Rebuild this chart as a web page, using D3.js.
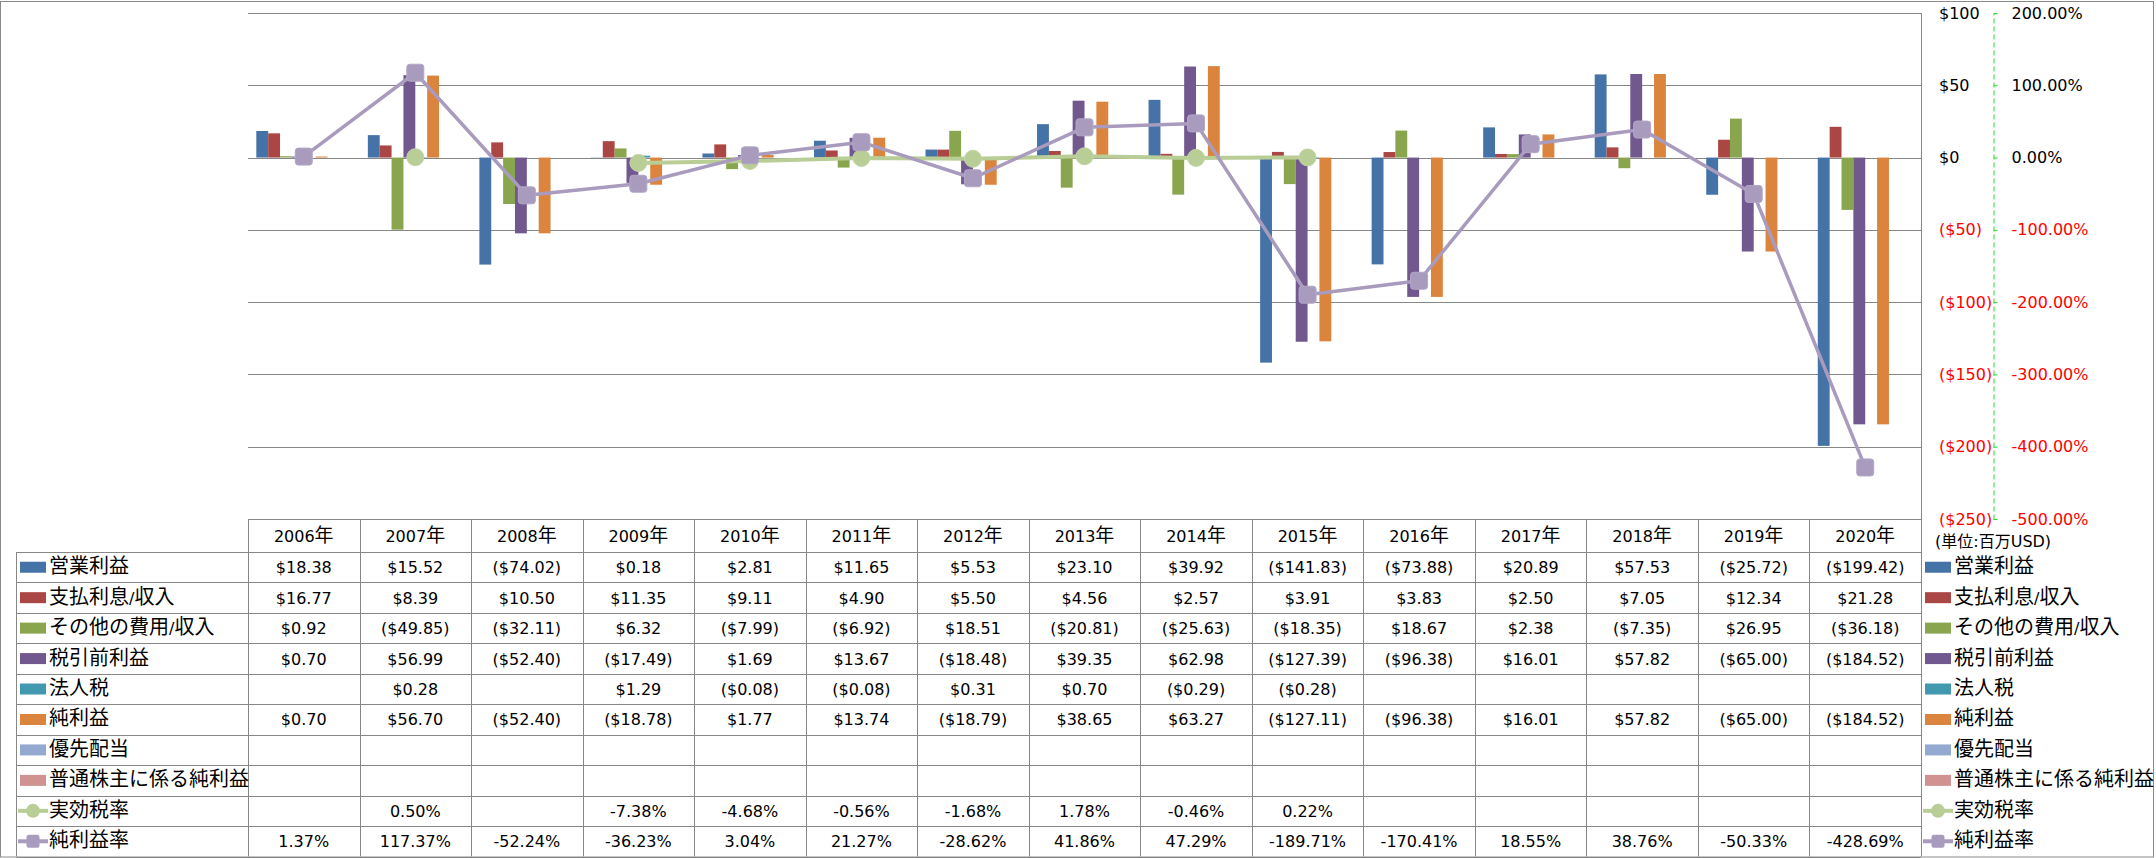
<!DOCTYPE html>
<html><head><meta charset="utf-8">
<script src="https://cdn.jsdelivr.net/npm/d3@7"></script>
<style>body{margin:0;background:#fff;} svg{display:block;}</style>
</head><body>
<svg id="c" width="2156" height="858"></svg>
<script>
// ---------- DATA ----------
const years = ["2006年","2007年","2008年","2009年","2010年","2011年","2012年","2013年","2014年","2015年","2016年","2017年","2018年","2019年","2020年"];
const barNames = ["営業利益","支払利息/収入","その他の費用/収入","税引前利益","法人税","純利益","優先配当","普通株主に係る純利益"];
const lineNames = ["実効税率","純利益率"];
const operatingIncome = [18.38,15.52,-74.02,0.18,2.81,11.65,5.53,23.10,39.92,-141.83,-73.88,20.89,57.53,-25.72,-199.42];
const interest = [16.77,8.39,10.50,11.35,9.11,4.90,5.50,4.56,2.57,3.91,3.83,2.50,7.05,12.34,21.28];
const otherExpense = [0.92,-49.85,-32.11,6.32,-7.99,-6.92,18.51,-20.81,-25.63,-18.35,18.67,2.38,-7.35,26.95,-36.18];
const pretaxIncome = [0.70,56.99,-52.40,-17.49,1.69,13.67,-18.48,39.35,62.98,-127.39,-96.38,16.01,57.82,-65.00,-184.52];
const incomeTax = [null,0.28,null,1.29,-0.08,-0.08,0.31,0.70,-0.29,-0.28,null,null,null,null,null];
const netIncome = [0.70,56.70,-52.40,-18.78,1.77,13.74,-18.79,38.65,63.27,-127.11,-96.38,16.01,57.82,-65.00,-184.52];
const preferredDividend = [null,null,null,null,null,null,null,null,null,null,null,null,null,null,null];
const netIncomeCommon = [null,null,null,null,null,null,null,null,null,null,null,null,null,null,null];
const effectiveTaxRate = [null,0.50,null,-7.38,-4.68,-0.56,-1.68,1.78,-0.46,0.22,null,null,null,null,null];
const netMargin = [1.37,117.37,-52.24,-36.23,3.04,21.27,-28.62,41.86,47.29,-189.71,-170.41,18.55,38.76,-50.33,-428.69];
const dollarTicks = [100,50,0,-50,-100,-150,-200,-250];
const dollarTickLabels = ["$100","$50","$0","($50)","($100)","($150)","($200)","($250)"];
const pctTicks = [200,100,0,-100,-200,-300,-400,-500];
const pctTickLabels = ["200.00%","100.00%","0.00%","-100.00%","-200.00%","-300.00%","-400.00%","-500.00%"];
const unitLabel = "(単位:百万USD)";

// ---------- STYLE ----------
const barColors = ["#4572A7","#AA4643","#89A54E","#71588F","#4198AF","#DB843D","#93A9CF","#D19392"];
const lineColors = ["#B9CD96","#A99BBD"];
const gridColor = "#878787";
const FONT = "'DejaVu Sans', 'Noto Sans CJK JP', sans-serif";
const CJK = "'Noto Sans CJK JP', sans-serif";

const barValues = [operatingIncome, interest, otherExpense, pretaxIncome, incomeTax, netIncome, preferredDividend, netIncomeCommon];
const lineValues = [effectiveTaxRate, netMargin];

const L = 248, R = 1921, T = 13, B = 519;
const svg = d3.select("#c");

const x0 = d3.scaleBand().domain(years).range([L, R]).paddingInner(0.149).paddingOuter(0.0745);
const x1 = d3.scaleBand().domain(d3.range(barNames.length)).range([0, x0.bandwidth()]);
const xc = d3.scaleBand().domain(years).range([L, R]);
const y = d3.scaleLinear().domain([-250, 100]).range([B, T]);
const y2 = d3.scaleLinear().domain([-500, 200]).range([B, T]);

function mixed(sel, str, latin, cjk) {
  const re = /([\u3000-\u30ff\u3400-\u9fff\uff00-\uffef]+)/;
  str.split(re).filter(s => s.length).forEach(s => {
    const isC = /[\u3000-\u30ff\u3400-\u9fff\uff00-\uffef]/.test(s);
    const t = sel.append("tspan").text(s).attr("font-size", isC ? cjk : latin);
    if (isC) t.attr("font-family", CJK);
  });
  return sel;
}
const fmtD = v => v == null ? "" : (v < 0 ? "($" + (-v).toFixed(2) + ")" : "$" + v.toFixed(2));
const fmtP = v => v == null ? "" : v.toFixed(2) + "%";

// outer border
svg.append("rect").attr("x", 0.5).attr("y", 1.5).attr("width", 2153).attr("height", 855.5)
  .attr("fill", "#fff").attr("stroke", "#8a8a8a");

// gridlines
svg.append("g").selectAll("line").data(dollarTicks).join("line")
  .attr("x1", L).attr("x2", R)
  .attr("y1", d => Math.round(y(d)) + 0.5).attr("y2", d => Math.round(y(d)) + 0.5)
  .attr("stroke", gridColor).attr("stroke-width", 1);

// bars
const gBars = svg.append("g");
barValues.forEach((vals, si) => {
  gBars.append("g").selectAll("rect")
    .data(vals.map((v, i) => ({ v, yr: years[i] })).filter(d => d.v != null))
    .join("rect")
    .attr("x", d => x0(d.yr) + x1(si))
    .attr("width", x1.bandwidth())
    .attr("y", d => y(Math.max(0, d.v)))
    .attr("height", d => Math.abs(y(d.v) - y(0)))
    .attr("fill", barColors[si]);
});

// lines
const cx = yr => xc(yr) + xc.bandwidth() / 2;
lineValues.forEach((vals, li) => {
  const pts = vals.map((v, i) => ({ v, yr: years[i] }));
  const line = d3.line().defined(d => d.v != null).x(d => cx(d.yr)).y(d => y2(d.v));
  svg.append("path").datum(pts).attr("d", line).attr("fill", "none")
    .attr("stroke", lineColors[li]).attr("stroke-width", li === 0 ? 4 : 3.5)
    .attr("stroke-linejoin", "round");
  const m = svg.append("g").selectAll("g").data(pts.filter(d => d.v != null)).join("g");
  if (li === 0) {
    m.append("circle").attr("cx", d => cx(d.yr)).attr("cy", d => y2(d.v)).attr("r", 8.5)
      .attr("fill", lineColors[0]).attr("stroke", "#C3D5A6").attr("stroke-width", 1);
  } else {
    m.append("rect").attr("x", d => cx(d.yr) - 8.5).attr("y", d => y2(d.v) - 8.5)
      .attr("width", 17).attr("height", 17).attr("rx", 3)
      .attr("fill", "#A99BBD").attr("stroke", "#B3A7C6").attr("stroke-width", 1);
  }
});

// right dollar axis
const axD = svg.append("g").attr("transform", `translate(${R},0)`)
  .call(d3.axisRight(y).tickValues(dollarTicks).tickFormat((d, i) => dollarTickLabels[i]).tickSize(0).tickPadding(18));
axD.select(".domain").remove();
axD.selectAll("text").attr("font-family", FONT).attr("font-size", 16)
  .attr("fill", d => d < 0 ? "#FF0000" : "#000");

// right percent axis
const axP = svg.append("g").attr("transform", `translate(1993.5,0)`)
  .call(d3.axisRight(y2).tickValues(pctTicks).tickFormat((d, i) => pctTickLabels[i]).tickSize(4).tickSizeOuter(0).tickPadding(14));
axP.select(".domain").attr("stroke", "#22DD22").attr("stroke-dasharray", "5,3");
axP.selectAll(".tick line").attr("stroke", "#22DD22");
axP.selectAll("text").attr("font-family", FONT).attr("font-size", 16)
  .attr("fill", d => d < 0 ? "#FF0000" : "#000");

// unit label
mixed(svg.append("text").attr("x", 1935).attr("y", 547).attr("font-family", FONT), unitLabel, 16, 16);

// ---------- TABLE ----------
const headTop = 519, headBot = 552, rowH = 30.45;
const nRows = barNames.length + lineNames.length;
const tableBot = headBot + rowH * nRows;
const gT = svg.append("g").attr("stroke", gridColor).attr("stroke-width", 1);
// header top line
gT.append("line").attr("x1", L).attr("x2", R).attr("y1", headTop + 0.5).attr("y2", headTop + 0.5);
// row lines
d3.range(nRows + 1).forEach(i => {
  const yy = Math.round(headBot + i * rowH) + 0.5;
  gT.append("line").attr("x1", 16.5).attr("x2", R).attr("y1", yy).attr("y2", yy);
});
// column lines
years.forEach(yr => {
  const xx = Math.round(xc(yr)) + 0.5;
  gT.append("line").attr("x1", xx).attr("x2", xx).attr("y1", headTop).attr("y2", tableBot);
});
gT.append("line").attr("x1", R + 0.5).attr("x2", R + 0.5).attr("y1", T).attr("y2", tableBot);
gT.append("line").attr("x1", 16.5).attr("x2", 16.5).attr("y1", headBot).attr("y2", tableBot);

// header text
years.forEach(yr => {
  mixed(svg.append("text").attr("x", cx(yr)).attr("y", (headTop + headBot) / 2 + 6)
    .attr("text-anchor", "middle").attr("font-family", FONT), yr, 16, 19);
});
// cells
const rowCenter = r => headBot + rowH * r + rowH / 2;
barValues.forEach((vals, r) => {
  vals.forEach((v, i) => {
    if (v == null) return;
    svg.append("text").attr("x", cx(years[i])).attr("y", rowCenter(r) + 6)
      .attr("text-anchor", "middle").attr("font-family", FONT).attr("font-size", 16).text(fmtD(v));
  });
});
lineValues.forEach((vals, li) => {
  const r = barNames.length + li;
  vals.forEach((v, i) => {
    if (v == null) return;
    svg.append("text").attr("x", cx(years[i])).attr("y", rowCenter(r) + 6)
      .attr("text-anchor", "middle").attr("font-family", FONT).attr("font-size", 16).text(fmtP(v));
  });
});

// legends (left in table and right side)
function legendKey(x0k, r, idx) {
  const cy = rowCenter(r);
  if (idx < barNames.length) {
    svg.append("rect").attr("x", x0k + 2).attr("y", cy - 5.5).attr("width", 26).attr("height", 11).attr("fill", barColors[idx]);
  } else {
    const li = idx - barNames.length;
    svg.append("line").attr("x1", x0k).attr("x2", x0k + 30).attr("y1", cy).attr("y2", cy)
      .attr("stroke", lineColors[li]).attr("stroke-width", 4);
    if (li === 0) svg.append("circle").attr("cx", x0k + 15).attr("cy", cy).attr("r", 7).attr("fill", lineColors[0]);
    else svg.append("rect").attr("x", x0k + 8.5).attr("y", cy - 6.5).attr("width", 13).attr("height", 13).attr("rx", 2.5).attr("fill", "#A99BBD");
  }
}
const allNames = barNames.concat(lineNames);
allNames.forEach((nm, r) => {
  legendKey(18, r, r);
  mixed(svg.append("text").attr("x", 49).attr("y", rowCenter(r) + 6).attr("font-family", FONT), nm, 16, 20);
  legendKey(1923, r, r);
  mixed(svg.append("text").attr("x", 1954).attr("y", rowCenter(r) + 6).attr("font-family", FONT), nm, 16, 20);
});
</script>
</body></html>
